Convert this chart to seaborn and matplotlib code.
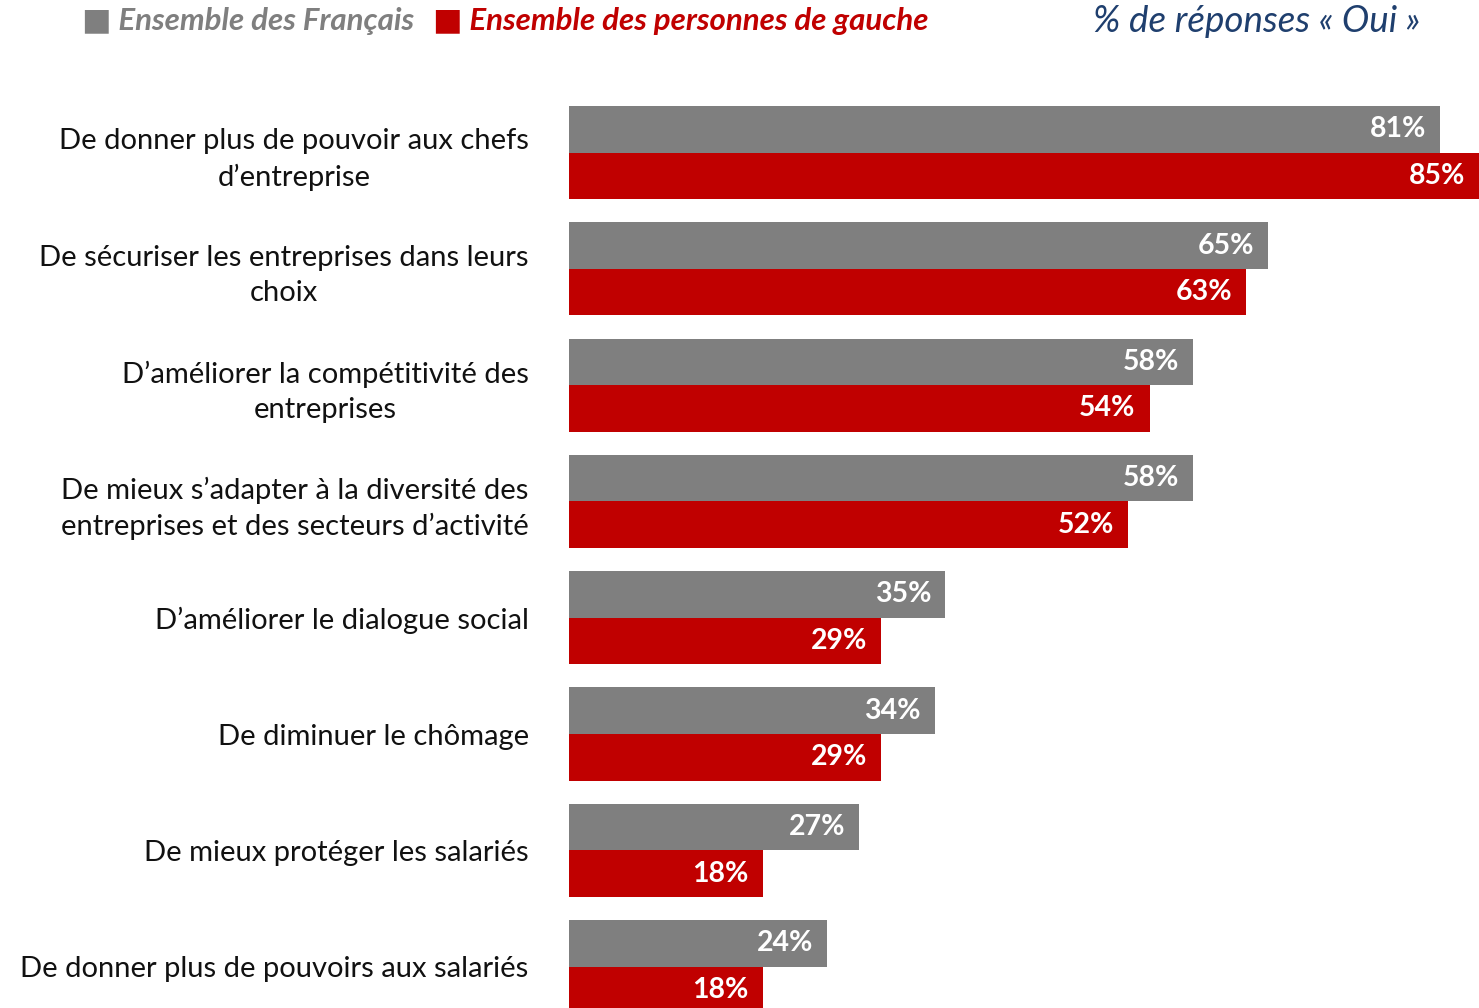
import pandas as pd
import matplotlib
matplotlib.use("Agg")
import matplotlib.pyplot as plt
import matplotlib.transforms as mtransforms
import seaborn as sns

# Data
categories = [
    "De donner plus de pouvoir aux chefs\nd\u2019entreprise",
    "De s\u00e9curiser les entreprises dans leurs\nchoix",
    "D\u2019am\u00e9liorer la comp\u00e9titivit\u00e9 des\nentreprises",
    "De mieux s\u2019adapter \u00e0 la diversit\u00e9 des\nentreprises et des secteurs d\u2019activit\u00e9",
    "D\u2019am\u00e9liorer le dialogue social",
    "De diminuer le ch\u00f4mage",
    "De mieux prot\u00e9ger les salari\u00e9s",
    "De donner plus de pouvoirs aux salari\u00e9s",
]
series_names = ["Ensemble des Fran\u00e7ais", "Ensemble des personnes de gauche"]
francais = [81, 65, 58, 58, 35, 34, 27, 24]
gauche = [85, 63, 54, 52, 29, 29, 18, 18]

GREY = "#7F7F7F"
RED = "#C00000"
NAVY = "#1F3F6E"

df = pd.DataFrame({
    "categorie": categories * 2,
    "groupe": [series_names[0]] * len(categories) + [series_names[1]] * len(categories),
    "valeur": francais + gauche,
})

sns.set_style("white")
plt.rcParams["font.family"] = ["Lato", "DejaVu Sans"]

W, H = 1479, 1008
fig = plt.figure(figsize=(W / 100, H / 100), dpi=100)
left = 569 / W
ax = fig.add_axes([left, 0, 1 - left, 1])

sns.barplot(data=df, y="categorie", x="valeur", hue="groupe", orient="h",
            order=categories, hue_order=series_names,
            palette=[GREY, RED], width=0.8, saturation=1, linewidth=0, ax=ax)

px_per_unit = (1440 - 569) / 81
xmax = (W - 569) / px_per_unit
ax.set_xlim(0, xmax)
# first group centre at y=152.5 px, spacing 116.3 px
sp = 116.3
ax.set_ylim((H - 152.5) / sp, -152.5 / sp)

# value labels inside the bar ends (clamped to the visible area)
offset = mtransforms.offset_copy(ax.transData, fig=fig, x=-14, y=0, units="dots")
for cont in ax.containers:
    for bar, v in zip(cont.patches, cont.datavalues):
        yc = bar.get_y() + bar.get_height() / 2
        ax.text(min(v, xmax), yc, f"{int(v)}%", transform=offset,
                color="white", fontsize=20.5, fontweight="bold",
                ha="right", va="center", clip_on=False)

ax.set_xlabel("")
ax.set_ylabel("")
ax.set_xticks([])
ax.tick_params(axis="y", length=0, pad=29, labelsize=21)
for lbl in ax.get_yticklabels():
    lbl.set_multialignment("center")
    lbl.set_linespacing(1.4)
    lbl.set_color("#111111")
for s in ax.spines.values():
    s.set_visible(False)
ax.legend_.remove()

# header legend
fig.text(82 / W, 1 - 21 / H, "\u25a0 Ensemble des Fran\u00e7ais", color=GREY,
         fontsize=22.5, fontweight="bold", fontstyle="italic", va="center", ha="left")
fig.text(433 / W, 1 - 21 / H, "\u25a0 Ensemble des personnes de gauche", color=RED,
         fontsize=22.5, fontweight="bold", fontstyle="italic", va="center", ha="left")
fig.text(1420 / W, 1 - 21 / H, "% de r\u00e9ponses \u00ab Oui \u00bb", color=NAVY,
         fontsize=26.5, fontstyle="italic", va="center", ha="right")

fig.savefig("out.png", dpi=100)
